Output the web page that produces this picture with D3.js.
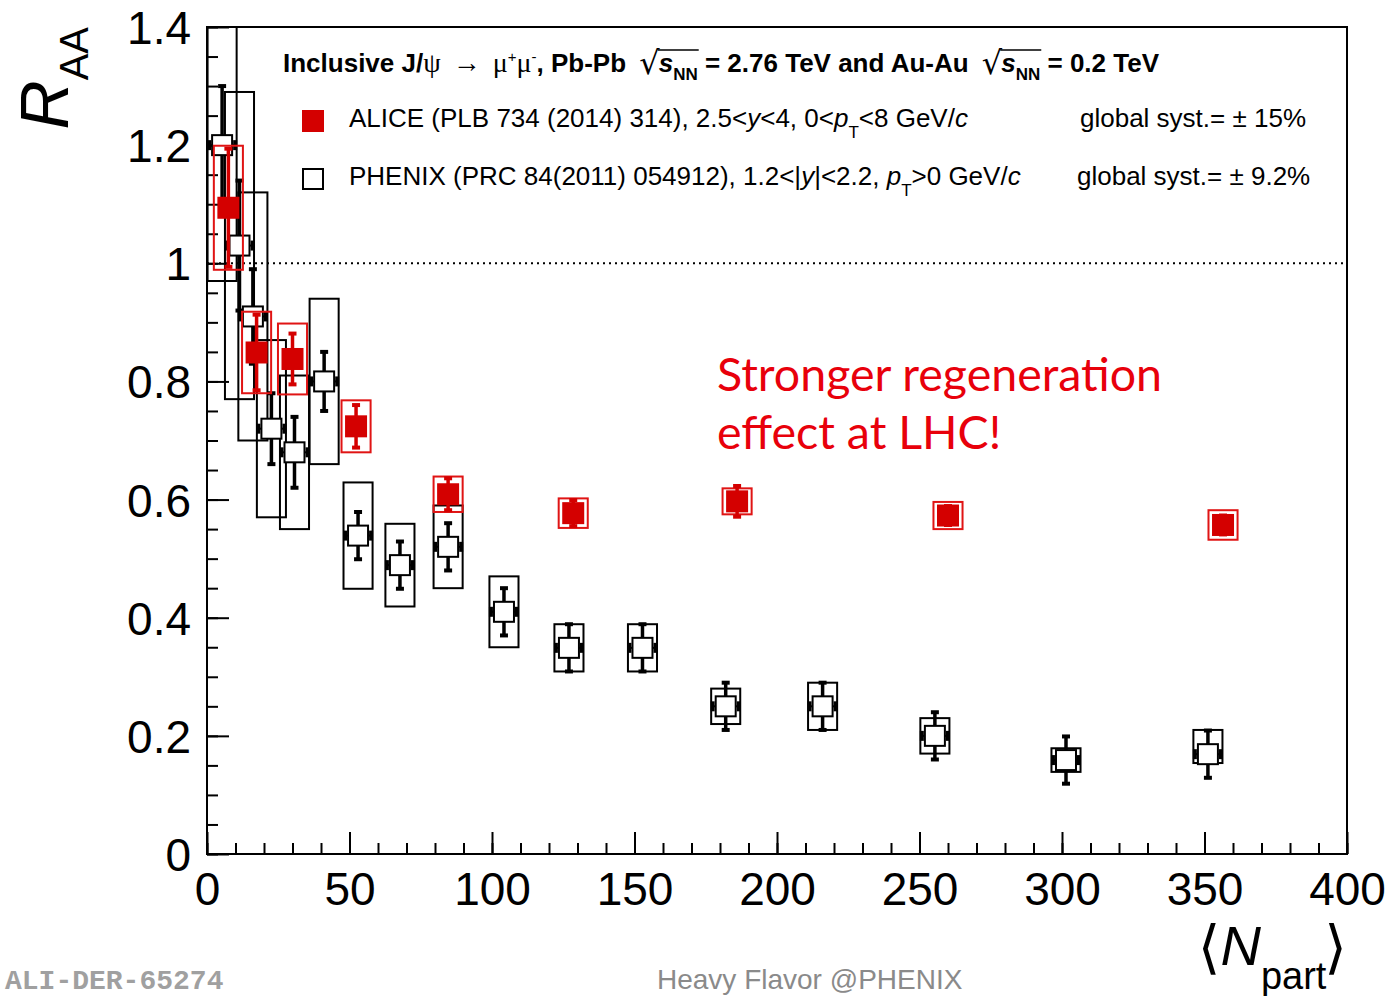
<!DOCTYPE html>
<html>
<head>
<meta charset="utf-8">
<script src="https://cdn.jsdelivr.net/npm/d3@7"></script>
<style>
  html, body { margin: 0; padding: 0; background: #fff; }
  svg { display: block; }
</style>
</head>
<body>
<svg id="chart" width="1391" height="996"></svg>
<script>
// ---------------- DATA ----------------
// ALICE Pb-Pb 2.76 TeV, 2.5<y<4
const aliceNpart = [7.5, 17.4, 30.0, 52.3, 84.6, 128.5, 186.0, 260.0, 356.5];
const aliceRaa   = [1.094, 0.849, 0.838, 0.724, 0.609, 0.577, 0.597, 0.573, 0.557];
const aliceStat  = [0.100, 0.064, 0.043, 0.036, 0.027, 0.022, 0.026, 0.016, 0.016];
const aliceSyst  = [0.105, 0.069, 0.060, 0.044, 0.030, 0.025, 0.022, 0.023, 0.025];

// PHENIX Au-Au 0.2 TeV, 1.2<|y|<2.2
const phenixNpart  = [5.3, 11.4, 16.1, 22.6, 30.7, 41.1, 53.0, 67.7, 84.6, 104.2, 127.0, 152.8, 182.0, 216.0, 255.4, 301.4, 351.2];
const phenixRaa    = [1.20, 1.03, 0.91, 0.72, 0.68, 0.80, 0.539, 0.489, 0.52, 0.41, 0.349, 0.349, 0.25, 0.25, 0.20, 0.159, 0.169];
const phenixStat   = [0.10, 0.11, 0.08, 0.06, 0.06, 0.05, 0.04, 0.04, 0.04, 0.04, 0.04, 0.04, 0.04, 0.04, 0.04, 0.04, 0.04];
const phenixSystHi = [0.23, 0.26, 0.21, 0.15, 0.13, 0.14, 0.09, 0.07, 0.07, 0.06, 0.04, 0.04, 0.03, 0.04, 0.03, 0.02, 0.041];
const phenixSystLo = [0.23, 0.26, 0.21, 0.15, 0.13, 0.14, 0.09, 0.07, 0.07, 0.06, 0.04, 0.04, 0.03, 0.04, 0.03, 0.02, 0.015];

const xTicks = [0, 50, 100, 150, 200, 250, 300, 350, 400];
const yTicks = [0, 0.2, 0.4, 0.6, 0.8, 1.0, 1.2, 1.4];
const referenceLine = 1.0;
const boxHalfWidthNpart = 5.1;

const annotationLines = ["Stronger regeneration", "effect at LHC!"];

// ---------------- SETUP ----------------
const svg = d3.select("#chart");
const X0 = 207, X1 = 1347, Y0 = 854, Y1 = 27;
const x = d3.scaleLinear().domain([0, 400]).range([X0, X1]);
const y = d3.scaleLinear().domain([0, 1.4]).range([Y0, Y1]);

const SANS = "'Liberation Sans', Arial, Helvetica, sans-serif";
const SERIF = "'Liberation Serif', 'DejaVu Serif', serif";
const RED = "#d40000";
const RED_BOX = "#e01414";

svg.append("defs").append("clipPath").attr("id", "clip")
  .append("rect").attr("x", X0).attr("y", Y1).attr("width", X1 - X0).attr("height", Y0 - Y1);

// ---------------- AXES ----------------
const fmt = d => String(+d.toFixed(1));

const yMinor = svg.append("g").attr("transform", `translate(${X0},0)`)
  .call(d3.axisLeft(y).tickValues(d3.range(0, 1.4001, 0.05)).tickSizeInner(-11).tickSizeOuter(0).tickFormat(""));
const yMajor = svg.append("g").attr("transform", `translate(${X0},0)`)
  .call(d3.axisLeft(y).tickValues(yTicks).tickSizeInner(-22).tickSizeOuter(0).tickPadding(16).tickFormat(fmt));
const xMinor = svg.append("g").attr("transform", `translate(0,${Y0})`)
  .call(d3.axisBottom(x).tickValues(d3.range(0, 400.1, 10)).tickSizeInner(-11).tickSizeOuter(0).tickFormat(""));
const xMajor = svg.append("g").attr("transform", `translate(0,${Y0})`)
  .call(d3.axisBottom(x).tickValues(xTicks).tickSizeInner(-22).tickSizeOuter(0).tickPadding(18).tickFormat(fmt));

[yMinor, yMajor, xMinor, xMajor].forEach(g => {
  g.select(".domain").remove();
  g.selectAll(".tick line").attr("stroke", "#000").attr("stroke-width", 2);
  g.selectAll("text").attr("fill", "#000").style("font-family", SANS).style("font-size", "46px");
});
yMajor.selectAll("text").attr("dy", "0.36em");

// reference line
svg.append("line")
  .attr("x1", X0).attr("x2", X1).attr("y1", y(referenceLine)).attr("y2", y(referenceLine))
  .attr("stroke", "#000").attr("stroke-width", 2).attr("stroke-dasharray", "2,4");

// ---------------- DATA MARKS ----------------
const plot = svg.append("g").attr("clip-path", "url(#clip)");

const phenix = phenixNpart.map((n, i) => ({ n, r: phenixRaa[i], s: phenixStat[i], hi: phenixSystHi[i], lo: phenixSystLo[i] }));
const alice = aliceNpart.map((n, i) => ({ n, r: aliceRaa[i], s: aliceStat[i], hi: aliceSyst[i], lo: aliceSyst[i] }));

const M = 22;   // marker size
const CAP = 8;  // cap width

function drawSeries(data, color, boxColor, filled, hErr) {
  const g = plot.append("g");
  g.selectAll("rect.sys").data(data).join("rect").attr("class", "sys")
    .attr("x", d => x(d.n - boxHalfWidthNpart)).attr("width", d => x(d.n + boxHalfWidthNpart) - x(d.n - boxHalfWidthNpart))
    .attr("y", d => y(d.r + d.hi)).attr("height", d => y(d.r - d.lo) - y(d.r + d.hi))
    .attr("fill", "none").attr("stroke", boxColor).attr("stroke-width", 2);
  g.selectAll("line.err").data(data).join("line").attr("class", "err")
    .attr("x1", d => x(d.n)).attr("x2", d => x(d.n))
    .attr("y1", d => y(d.r + d.s)).attr("y2", d => y(d.r - d.s))
    .attr("stroke", color).attr("stroke-width", 3.5);
  ["top", "bot"].forEach(k => {
    g.selectAll("line.cap" + k).data(data).join("line").attr("class", "cap" + k)
      .attr("x1", d => x(d.n) - CAP / 2).attr("x2", d => x(d.n) + CAP / 2)
      .attr("y1", d => y(k === "top" ? d.r + d.s : d.r - d.s))
      .attr("y2", d => y(k === "top" ? d.r + d.s : d.r - d.s))
      .attr("stroke", color).attr("stroke-width", 4);
  });
  if (hErr) {
    g.selectAll("line.herr").data(data).join("line").attr("class", "herr")
      .attr("x1", d => x(d.n - boxHalfWidthNpart)).attr("x2", d => x(d.n + boxHalfWidthNpart))
      .attr("y1", d => y(d.r)).attr("y2", d => y(d.r))
      .attr("stroke", color).attr("stroke-width", 2);
    ["l", "r"].forEach(k => {
      g.selectAll("line.hcap" + k).data(data).join("line").attr("class", "hcap" + k)
        .attr("x1", d => x(d.n + (k === "l" ? -1 : 1) * boxHalfWidthNpart) + (k === "l" ? 1.5 : -1.5))
        .attr("x2", d => x(d.n + (k === "l" ? -1 : 1) * boxHalfWidthNpart) + (k === "l" ? 1.5 : -1.5))
        .attr("y1", d => y(d.r) - 5).attr("y2", d => y(d.r) + 5)
        .attr("stroke", color).attr("stroke-width", 4);
    });
  }
  g.selectAll("rect.mk").data(data).join("rect").attr("class", "mk")
    .attr("x", d => x(d.n) - (filled ? M / 2 : M / 2 - 1))
    .attr("y", d => y(d.r) - (filled ? M / 2 : M / 2 - 1))
    .attr("width", filled ? M : M - 2).attr("height", filled ? M : M - 2)
    .attr("fill", filled ? color : "#fff")
    .attr("stroke", filled ? "none" : color).attr("stroke-width", 2);
}

drawSeries(phenix, "#000", "#000", false, true);
drawSeries(alice, RED, RED_BOX, true, false);

// frame
svg.append("rect").attr("x", X0).attr("y", Y1).attr("width", X1 - X0).attr("height", Y0 - Y1)
  .attr("fill", "none").attr("stroke", "#000").attr("stroke-width", 2);

// ---------------- TEXT HELPERS ----------------
function layout(g, x0, y0, segs, baseSize) {
  let cx = x0;
  segs.forEach(s => {
    const t = g.append("text")
      .attr("x", cx).attr("y", y0 + (s.dy || 0))
      .style("font-family", s.family || SANS)
      .style("font-size", (s.size || baseSize) + "px")
      .style("font-weight", s.bold ? "bold" : "normal")
      .style("font-style", s.italic ? "italic" : "normal")
      .style("white-space", "pre")
      .attr("xml:space", "preserve")
      .attr("fill", "#000")
      .text(s.t);
    const w = t.node().getComputedTextLength();
    s.x0 = cx; s.x1 = cx + w;
    cx += w + (s.gap || 0);
  });
  return cx;
}

// ---------------- LEGEND ----------------
const leg = svg.append("g");
const H = 26;
const sqrtSeg = () => [
  { t: "\u221A", size: 32, family: "'DejaVu Sans', sans-serif", dy: 2, gap: -1, key: "rad" },
  { t: "s", bold: true, italic: true, key: "s" },
  { t: "NN", bold: true, size: 17, dy: 8, key: "nn" }
];
const headerSegs = [
  { t: "Inclusive J/", bold: true },
  { t: "\u03C8", family: SERIF, size: 28, gap: 12 },
  { t: "\u2192", family: SERIF, size: 28, gap: 12 },
  { t: "\u03BC", family: SERIF, size: 28 },
  { t: "+", size: 15, dy: -10 },
  { t: "\u03BC", family: SERIF, size: 28 },
  { t: "-", size: 15, dy: -10 },
  { t: ", Pb-Pb ", bold: true, gap: 6 },
  ...sqrtSeg(),
  { t: " = 2.76 TeV and Au-Au ", bold: true, gap: 6 },
  ...sqrtSeg(),
  { t: " = 0.2 TeV", bold: true }
];
layout(leg, 283, 72, headerSegs, H);
for (let i = 0; i < headerSegs.length; i++) {
  if (headerSegs[i].key === "rad") {
    const nn = headerSegs[i + 2];
    leg.append("line").attr("x1", headerSegs[i].x1 - 2).attr("x2", nn.x1 + 1)
      .attr("y1", 50).attr("y2", 50).attr("stroke", "#000").attr("stroke-width", 1.6);
  }
}

const L = 26;
const aliceLabel = [
  { t: "ALICE (PLB 734 (2014) 314), 2.5<" }, { t: "y", italic: true }, { t: "<4, 0<" },
  { t: "p", italic: true }, { t: "T", size: 17, dy: 11 }, { t: "<8 GeV/" }, { t: "c", italic: true }
];
const phenixLabel = [
  { t: "PHENIX (PRC 84(2011) 054912), 1.2<|" }, { t: "y", italic: true }, { t: "|<2.2, " },
  { t: "p", italic: true }, { t: "T", size: 17, dy: 11 }, { t: ">0 GeV/" }, { t: "c", italic: true }
];
layout(leg, 349, 127, aliceLabel, L);
layout(leg, 349, 185, phenixLabel, L);
layout(leg, 1080, 127, [{ t: "global syst.= \u00B1 15%" }], L);
layout(leg, 1077, 185, [{ t: "global syst.= \u00B1 9.2%" }], L);

leg.append("rect").attr("x", 302).attr("y", 110).attr("width", M).attr("height", M).attr("fill", RED);
leg.append("rect").attr("x", 303).attr("y", 169).attr("width", M - 2).attr("height", M - 2)
  .attr("fill", "#fff").attr("stroke", "#000").attr("stroke-width", 2);

// ---------------- AXIS TITLES ----------------
const yTitle = svg.append("g").attr("transform", `translate(68, 27) rotate(-90)`);
yTitle.append("text").attr("x", 0).attr("y", 0).attr("text-anchor", "end")
  .style("font-family", SANS).attr("fill", "#000")
  .call(t => {
    t.append("tspan").style("font-size", "68px").style("font-style", "italic").text("R");
    t.append("tspan").style("font-size", "40px").attr("dy", 20).text("AA");
  });

const xt = svg.append("g");
const xTitleSegs = [
  { t: "\u27E8", family: "'DejaVu Sans', sans-serif", size: 58, dy: 2 },
  { t: "N", italic: true, size: 56 },
  { t: "part", size: 38, dy: 24, gap: -2 },
  { t: "\u27E9", family: "'DejaVu Sans', sans-serif", size: 58, dy: 2 }
];
const endX = layout(xt, 0, 965, xTitleSegs, 56);
xt.attr("transform", `translate(${1347 - endX},0)`);

// ---------------- ANNOTATION ----------------
svg.append("g").selectAll("text").data(annotationLines).join("text")
  .attr("x", 717).attr("y", (d, i) => 391 + i * 58)
  .style("font-family", "Lato, 'Open Sans', sans-serif").style("font-size", "46.5px")
  .attr("fill", "#e8000b").text(d => d);

// ---------------- FOOTER ----------------
svg.append("text").attr("x", 5).attr("y", 989)
  .style("font-family", "'Liberation Mono', 'DejaVu Sans Mono', monospace").style("font-weight", "bold")
  .style("font-size", "28px").attr("fill", "#a0a0a0").text("ALI-DER-65274");
svg.append("text").attr("x", 657).attr("y", 989)
  .style("font-family", SANS).style("font-size", "28px").attr("fill", "#8a8a8a").text("Heavy Flavor @PHENIX");
</script>
</body>
</html>
